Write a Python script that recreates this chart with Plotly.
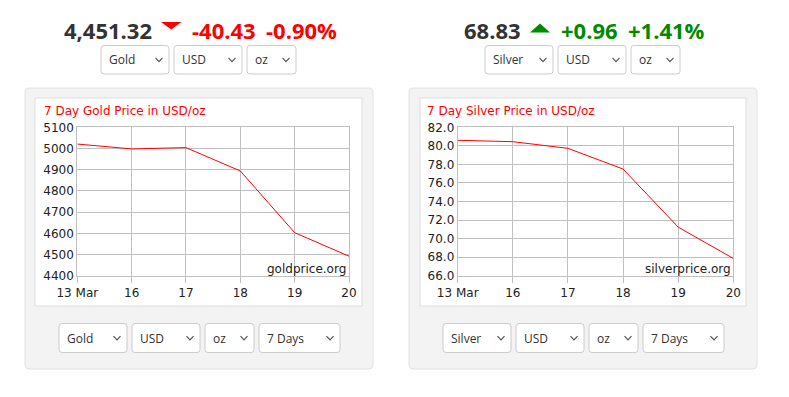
import plotly.graph_objects as go

# page body has an 8px margin: the figure is drawn from (8, 8) to (789, 397)
OFF = 8
W, H = 789 - OFF, 397 - OFF

# ---- data ----
days = ["13 Mar", "16", "17", "18", "19", "20"]
gold = [5021, 4998, 5004, 4894, 4603, 4492]
silver = [80.6, 80.45, 79.73, 77.5, 71.24, 67.86]
gold_ticks = [4400, 4500, 4600, 4700, 4800, 4900, 5000, 5100]
silver_ticks = [66.0, 68.0, 70.0, 72.0, 74.0, 76.0, 78.0, 80.0, 82.0]

gold_head = ["4,451.32", "-40.43", "-0.90%"]
silver_head = ["68.83", "+0.96", "+1.41%"]
gold_top_menus = ["Gold", "USD", "oz"]
silver_top_menus = ["Silver", "USD", "oz"]
gold_bottom_menus = ["Gold", "USD", "oz", "7 Days"]
silver_bottom_menus = ["Silver", "USD", "oz", "7 Days"]
titles = ["7 Day Gold Price in USD/oz", "7 Day Silver Price in USD/oz"]
sources = ["goldprice.org", "silverprice.org"]

RED = "#ff0000"
GREEN = "#008a00"
DARK = "#333333"
GRID = "#c0c0c0"


def X(px):
    return (px - OFF) / W


def Y(py):
    return 1 - (py - OFF) / H


def rrect(x0, y0, x1, y1, r):
    pts = [
        f"M {X(x0 + r)},{Y(y0)}",
        f"L {X(x1 - r)},{Y(y0)}",
        f"Q {X(x1)},{Y(y0)} {X(x1)},{Y(y0 + r)}",
        f"L {X(x1)},{Y(y1 - r)}",
        f"Q {X(x1)},{Y(y1)} {X(x1 - r)},{Y(y1)}",
        f"L {X(x0 + r)},{Y(y1)}",
        f"Q {X(x0)},{Y(y1)} {X(x0)},{Y(y1 - r)}",
        f"L {X(x0)},{Y(y0 + r)}",
        f"Q {X(x0)},{Y(y0)} {X(x0 + r)},{Y(y0)}",
        "Z",
    ]
    return " ".join(pts)


shapes = []
annotations = []


def add_text(text, px, py, size, color, family="Open Sans", xanchor="left", bold=False):
    annotations.append(dict(
        x=X(px), y=Y(py), xref="paper", yref="paper", text=(f"<b>{text}</b>" if bold else text),
        showarrow=False, xanchor=xanchor, yanchor="middle",
        font=dict(family=family, size=size, color=color),
    ))


def add_menu(label, x0, x1, y0, y1):
    shapes.append(dict(type="path", path=rrect(x0, y0, x1, y1, 3), xref="paper", yref="paper",
                       line=dict(color="#cccccc", width=1), fillcolor="#ffffff", layer="below"))
    cy = (y0 + y1) / 2
    add_text(label, x0 + 6, cy, 12, DARK)
    cx = x1 - 10
    shapes.append(dict(type="path", xref="paper", yref="paper",
                       path=f"M {X(cx - 3.5)},{Y(cy - 1.8)} L {X(cx)},{Y(cy + 1.8)} L {X(cx + 3.5)},{Y(cy - 1.8)}",
                       line=dict(color="#555555", width=1.2)))


# panels
for (px0, ix0, ix1) in [(25, 35, 362), (409, 420, 746)]:
    shapes.append(dict(type="path", path=rrect(px0, 88, px0 + 348, 369, 4), xref="paper", yref="paper",
                       line=dict(color="#e2e2e2", width=1), fillcolor="#f3f3f3", layer="below"))
    shapes.append(dict(type="rect", x0=X(ix0), x1=X(ix1), y0=Y(306), y1=Y(98), xref="paper", yref="paper",
                       line=dict(color="#dddddd", width=1), fillcolor="#ffffff", layer="below"))

# headers
add_text(gold_head[0], 62, 30, 22, DARK, bold=True)
add_text(gold_head[1], 190, 30, 22, RED, bold=True)
add_text(gold_head[2], 264, 30, 22, RED, bold=True)
shapes.append(dict(type="path", xref="paper", yref="paper",
                   path=f"M {X(161)},{Y(22)} L {X(181.5)},{Y(22)} L {X(171.2)},{Y(29.5)} Z",
                   fillcolor=RED, line=dict(width=0)))
add_text(silver_head[0], 462, 30, 22, DARK, bold=True)
add_text(silver_head[1], 559, 30, 22, GREEN, bold=True)
add_text(silver_head[2], 626, 30, 22, GREEN, bold=True)
shapes.append(dict(type="path", xref="paper", yref="paper",
                   path=f"M {X(530)},{Y(32.5)} L {X(550)},{Y(32.5)} L {X(540)},{Y(23.5)} Z",
                   fillcolor=GREEN, line=dict(width=0)))

# menus
for lab, (a, b) in zip(gold_top_menus, [(101, 169), (174, 242), (247, 296)]):
    add_menu(lab, a, b, 45.5, 74)
for lab, (a, b) in zip(silver_top_menus, [(485, 553), (558, 626), (631, 680)]):
    add_menu(lab, a, b, 45.5, 74)
for lab, (a, b) in zip(gold_bottom_menus, [(59, 127), (132, 200), (205, 254), (259, 340)]):
    add_menu(lab, a, b, 323.5, 352.5)
for lab, (a, b) in zip(silver_bottom_menus, [(443, 511), (516, 584), (589, 638), (643, 724)]):
    add_menu(lab, a, b, 323.5, 352.5)

# chart titles and sources
add_text(titles[0], 41.5, 110.5, 12, RED, family="DejaVu Sans")
add_text(titles[1], 425, 110.5, 12, RED, family="DejaVu Sans")
add_text(sources[0], 348, 268.5, 12, "#222222", family="DejaVu Sans", xanchor="right")
add_text(sources[1], 733, 268.5, 12, "#222222", family="DejaVu Sans", xanchor="right")

fig = go.Figure()
idx = list(range(len(days)))
fig.add_trace(go.Scatter(x=idx, y=gold, mode="lines", line=dict(color=RED, width=1),
                         xaxis="x", yaxis="y", hoverinfo="skip", showlegend=False))
fig.add_trace(go.Scatter(x=idx, y=silver, mode="lines", line=dict(color=RED, width=1),
                         xaxis="x2", yaxis="y2", hoverinfo="skip", showlegend=False))

tickfont = dict(family="DejaVu Sans", size=12, color="#222222")
xcommon = dict(range=[0, 5], tickvals=idx, ticktext=days, showgrid=True, gridcolor=GRID, gridwidth=1,
               showline=True, mirror=True, linecolor=GRID, linewidth=1, ticks="outside", ticklen=6,
               tickcolor=GRID, tickfont=tickfont, zeroline=False, fixedrange=True, automargin=False)
ycommon = dict(showgrid=True, gridcolor=GRID, gridwidth=1, showline=True, mirror=True, linecolor=GRID,
               linewidth=1, ticks="", tickfont=tickfont, zeroline=False, fixedrange=True, automargin=False)

fig.update_layout(
    width=W, height=H, margin=dict(l=0, r=0, t=0, b=0, autoexpand=False),
    paper_bgcolor="#ffffff", plot_bgcolor="#ffffff", showlegend=False,
    xaxis=dict(domain=[X(77.3), X(349)], anchor="y", **xcommon),
    yaxis=dict(domain=[Y(275.7), Y(127.3)], anchor="x", range=[4400, 5100], tickvals=gold_ticks, **ycommon),
    xaxis2=dict(domain=[X(457.7), X(733.3)], anchor="y2", **xcommon),
    yaxis2=dict(domain=[Y(275.7), Y(127.3)], anchor="x2", range=[66, 82], tickvals=silver_ticks,
                tickformat=".1f", **ycommon),
    shapes=shapes, annotations=annotations,
)

fig.write_html("out.html")
